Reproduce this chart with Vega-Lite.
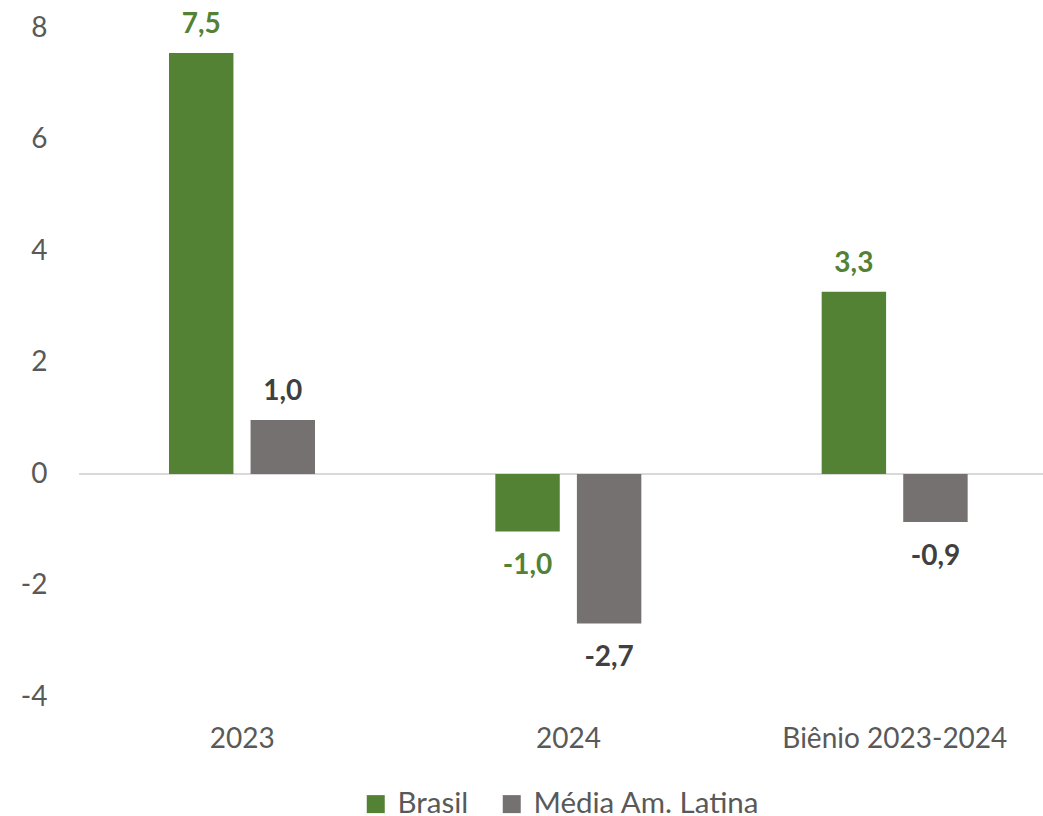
{
  "$schema": "https://vega.github.io/schema/vega-lite/v6.json",
  "autosize": "none",
  "width": 964,
  "height": 669,
  "padding": {"left": 79, "top": 28, "right": 0, "bottom": 119},
  "background": "white",
  "data": {
    "values": [
      {"periodo": "2023", "serie": "Brasil", "valor": 7.55, "rotulo": "7,5"},
      {"periodo": "2023", "serie": "Média Am. Latina", "valor": 0.97, "rotulo": "1,0"},
      {"periodo": "2024", "serie": "Brasil", "valor": -1.03, "rotulo": "-1,0"},
      {"periodo": "2024", "serie": "Média Am. Latina", "valor": -2.68, "rotulo": "-2,7"},
      {"periodo": "Biênio 2023-2024", "serie": "Brasil", "valor": 3.27, "rotulo": "3,3"},
      {"periodo": "Biênio 2023-2024", "serie": "Média Am. Latina", "valor": -0.86, "rotulo": "-0,9"}
    ]
  },
  "encoding": {
    "x": {
      "field": "periodo", "type": "nominal", "sort": null,
      "scale": {"range": [0, 979], "paddingInner": 0, "paddingOuter": 0},
      "axis": {"title": null, "labelAngle": 0, "domain": false, "ticks": false, "labelPadding": 28, "labelLimit": 0,
               "labelFont": "Lato", "labelFontSize": 28, "labelColor": "#595959", "grid": false}
    },
    "xOffset": {
      "field": "serie", "type": "nominal", "sort": ["Brasil", "Média Am. Latina"],
      "scale": {"range": [90, 236], "paddingInner": 0.21, "paddingOuter": 0}
    },
    "y": {
      "field": "valor", "type": "quantitative",
      "scale": {"domain": [-4, 8], "nice": false, "zero": false},
      "axis": {"title": null, "values": [-4, -2, 0, 2, 4, 6, 8], "domain": false, "ticks": false, "grid": false,
               "labelExpr": "replace(datum.label, '−', '-')",
               "labelPadding": 32, "labelFont": "Lato", "labelFontSize": 28, "labelColor": "#595959"}
    }
  },
  "layer": [
    {
      "mark": {"type": "rule", "color": "#d9d9d9", "strokeWidth": 2},
      "data": {"values": [{"zero": 0}]},
      "encoding": {"y": {"field": "zero", "type": "quantitative"}, "x": null, "xOffset": null}
    },
    {
      "mark": {"type": "bar"},
      "encoding": {
        "color": {
          "field": "serie", "type": "nominal",
          "scale": {"domain": ["Brasil", "Média Am. Latina"], "range": ["#548235", "#767171"]},
          "legend": {
            "title": null, "orient": "none", "direction": "horizontal",
            "legendX": 282, "legendY": 761,
            "symbolType": "square", "symbolSize": 324, "symbolStrokeWidth": 0,
            "labelFont": "Lato", "labelFontSize": 29.5, "labelColor": "#595959", "labelLimit": 0,
            "labelOffset": 7, "columnPadding": 28
          }
        }
      }
    },
    {
      "transform": [{"filter": "datum.valor >= 0"}],
      "mark": {"type": "text", "font": "Lato", "fontSize": 28, "fontWeight": "bold", "baseline": "alphabetic", "dy": -20},
      "encoding": {
        "text": {"field": "rotulo"},
        "color": {"condition": {"test": "datum.serie === 'Brasil'", "value": "#548235"}, "value": "#404040"}
      }
    },
    {
      "transform": [{"filter": "datum.valor < 0"}],
      "mark": {"type": "text", "font": "Lato", "fontSize": 28, "fontWeight": "bold", "baseline": "alphabetic", "dy": 43},
      "encoding": {
        "text": {"field": "rotulo"},
        "color": {"condition": {"test": "datum.serie === 'Brasil'", "value": "#548235"}, "value": "#404040"}
      }
    }
  ],
  "config": {"view": {"stroke": null}}
}
